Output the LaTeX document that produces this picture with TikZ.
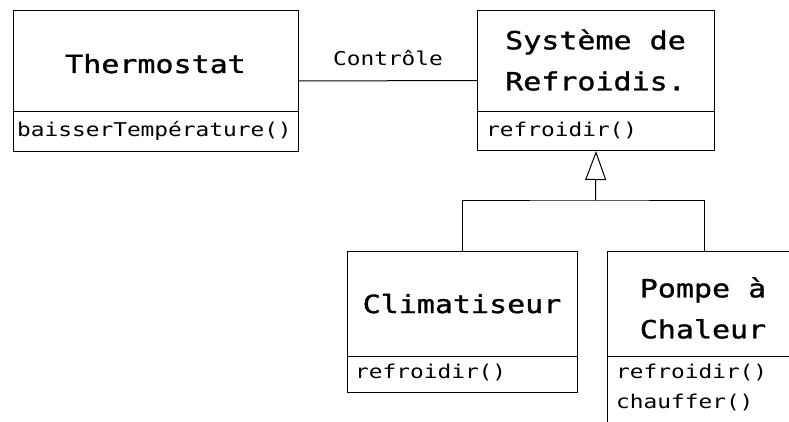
\documentclass[tikz,border=0pt]{standalone}
\usepackage{fontspec}
\usetikzlibrary{arrows.meta}
\newfontfamily\clsfont[FakeStretch=1.2,FakeBold=1.2]{DejaVu Sans Mono}
\newfontfamily\mthfont[FakeStretch=1.2]{DejaVu Sans Mono}
\begin{document}
\begin{tikzpicture}[x=1pt,y=-1pt,
  box/.style={draw, line width=1pt, rectangle, inner sep=0pt, anchor=north west},
  ln/.style={line width=1pt},
  cname/.style={inner sep=0pt, align=center, font=\clsfont\fontsize{25}{41}\selectfont},
  meth/.style={inner sep=0pt, anchor=base west, font=\mthfont\fontsize{19}{30}\selectfont},
  lbl/.style={inner sep=0pt, anchor=base, font=\mthfont\fontsize{19}{30}\selectfont}]
\useasboundingbox (0,0) rectangle (789,422);
\fill[white] (0,0) rectangle (789,422);
\clip (0,0) rectangle (789,422);
% class boxes
\node[box, minimum width=285pt, minimum height=141pt] (thermo) at (13,10) {};
\node[box, minimum width=237pt, minimum height=140pt] (sys) at (477,10) {};
\node[box, minimum width=230pt, minimum height=141pt] (clim) at (347,251) {};
\node[box, minimum width=194pt, minimum height=200pt] (pompe) at (607,251) {};
% compartments
\draw[ln] (13,112) -- (298,112);
\draw[ln] (477,112) -- (714,112);
\draw[ln] (347,356) -- (577,356);
\draw[ln] (607,356) -- (801,356);
% class names
\node[cname, anchor=base] (tname) at (155.5,73) {Thermostat};
\node[cname] (sname) at (595.5,60) {Système de\\Refroidis.};
\node[cname, anchor=base] (cname1) at (462,313) {Climatiseur};
\node[cname] (pname) at (703,308) {Pompe à\\Chaleur};
% methods
\node[meth] (tm) at (17,137) {baisserTempérature()};
\node[meth] (sm) at (486,137) {refroidir()};
\node[meth] (cm) at (355,378) {refroidir()};
\node[meth] (pm1) at (616,378) {refroidir()};
\node[meth] (pm2) at (616,408) {chauffer()};
% association
\draw[ln] (thermo.east) -- node[lbl, midway, yshift=15pt] (assoc) {Contrôle} (sys.west);
% generalization
\coordinate (j) at (595.5,200);
\draw[ln] (clim.north) |- (j) -| (pompe.north);
\draw[ln, -{Triangle[open, length=29pt, width=21pt]}] (j) -- (sys.south);
\end{tikzpicture}
\end{document}
